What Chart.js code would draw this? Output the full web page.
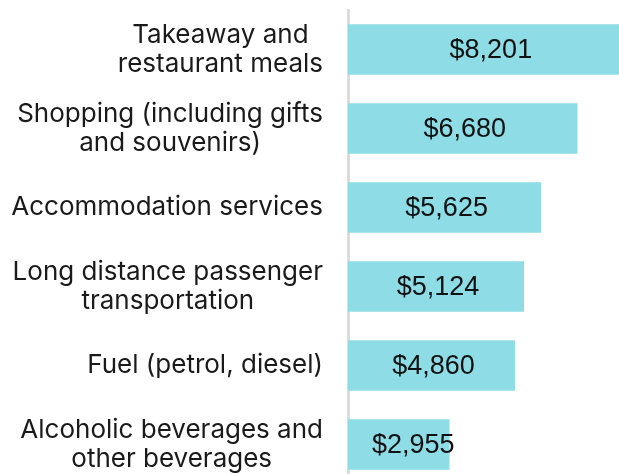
<!DOCTYPE html>
<html>
<head>
<meta charset="utf-8">
<script src="https://cdn.jsdelivr.net/npm/chart.js@4"></script>
<style>
  html, body { margin: 0; padding: 0; background: #fff; overflow: hidden; }
  #wrap { width: 640px; height: 484px; }
</style>
</head>
<body>
<div id="wrap"><canvas id="spendChart" width="640" height="484"></canvas></div>
<script>
// categories, each split into the lines shown on the axis
const categories = [
  ['Takeaway and', 'restaurant meals'],
  ['Shopping (including gifts', 'and souvenirs)'],
  ['Accommodation services'],
  ['Long distance passenger', 'transportation'],
  ['Fuel (petrol, diesel)'],
  ['Alcoholic beverages and', 'other beverages'],
];
const spending = [8201, 6680, 5625, 5124, 4860, 2955];
const xMax = 8500;

const labelFont = '400 26px Inter, "Noto Sans", sans-serif';
const valueFont = '27px "Liberation Sans", Arial, sans-serif';

// category labels: block right aligned, lines centred inside the block
const categoryLabels = {
  id: 'categoryLabels',
  afterDraw(chart) {
    const ctx = chart.ctx;
    const yScale = chart.scales.y;
    const right = yScale.right - 25;
    const lineH = 29;
    ctx.save();
    ctx.font = labelFont;
    ctx.fillStyle = '#1a1a1a';
    ctx.textAlign = 'center';
    ctx.textBaseline = 'middle';
    categories.forEach((lines, i) => {
      const blockW = Math.max(...lines.map(l => ctx.measureText(l).width));
      const cx = right - blockW / 2;
      const cy = yScale.getPixelForTick(i);
      const top = cy - (lines.length - 1) * lineH / 2;
      lines.forEach((l, j) => ctx.fillText(l, cx, top + j * lineH));
    });
    ctx.restore();
  }
};

// dollar values inside the bars
const valueLabels = {
  id: 'valueLabels',
  afterDatasetsDraw(chart) {
    const ctx = chart.ctx;
    const meta = chart.getDatasetMeta(0);
    ctx.save();
    ctx.font = valueFont;
    ctx.fillStyle = '#111';
    ctx.textAlign = 'left';
    ctx.textBaseline = 'middle';
    meta.data.forEach((bar, i) => {
      const txt = '$' + spending[i].toLocaleString('en-US');
      const w = ctx.measureText(txt).width;
      const mid = (bar.base + bar.x) / 2;
      const left = Math.max(mid - w / 2 + 2, bar.base + 24);
      ctx.fillText(txt, left, bar.y + 1.5);
    });
    ctx.restore();
  }
};

const ctx = document.getElementById('spendChart').getContext('2d');
new Chart(ctx, {
  type: 'bar',
  data: {
    labels: categories,
    datasets: [{
      data: spending,
      backgroundColor: '#8EDCE5',
      borderWidth: 0,
      categoryPercentage: 1,
      barPercentage: 0.64,
      clip: false,
    }],
  },
  options: {
    indexAxis: 'y',
    responsive: false,
    animation: false,
    layout: { padding: { top: 10, left: 0, right: 0, bottom: 0 } },
    plugins: {
      legend: { display: false },
      tooltip: { enabled: false },
    },
    scales: {
      x: {
        display: false,
        min: 0,
        max: xMax,
      },
      y: {
        grid: { display: false },
        border: { display: true, color: '#dcdcdc', width: 3 },
        ticks: { display: false },
        afterFit: (scale) => { scale.width = 348; },
      },
    },
  },
  plugins: [categoryLabels, valueLabels],
});
</script>
</body>
</html>
